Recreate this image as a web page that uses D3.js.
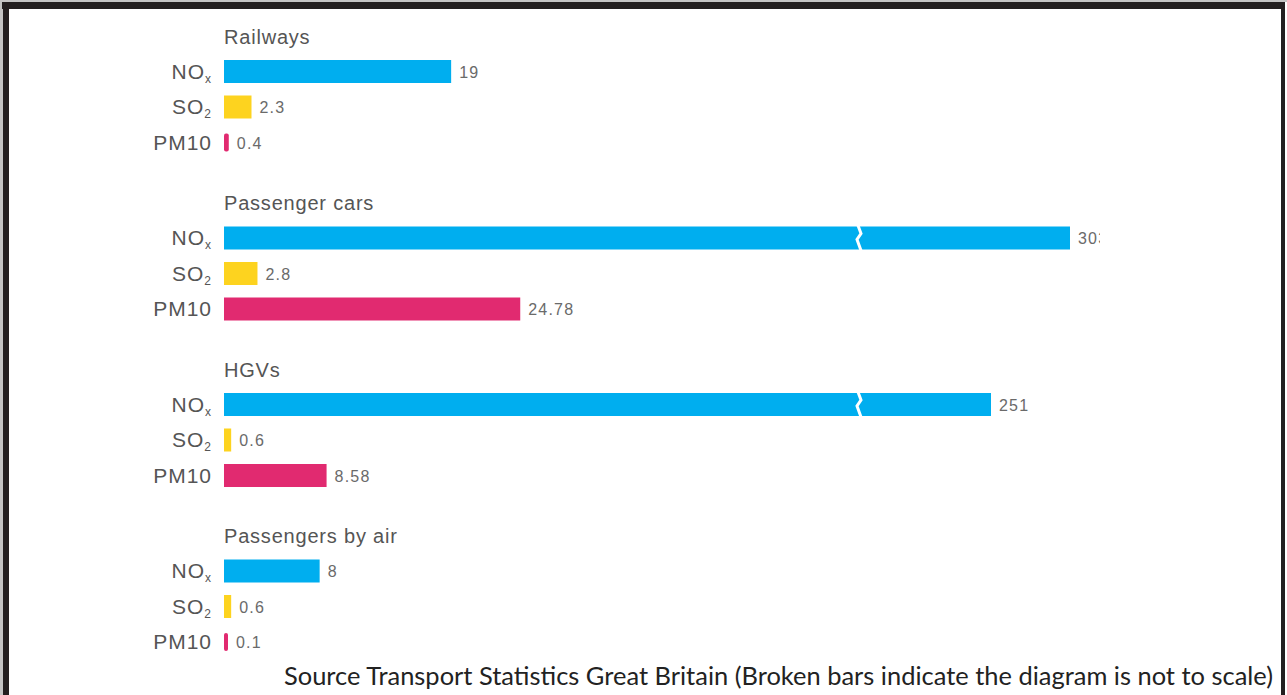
<!DOCTYPE html>
<html>
<head>
<meta charset="utf-8">
<script src="https://cdn.jsdelivr.net/npm/d3@7"></script>
<style>
  body { margin: 0; background: #fff; }
  svg { display: block; }
  .cat { font-family: "Liberation Sans", Arial, sans-serif; font-size: 20px; fill: #555; letter-spacing: 0.8px; }
  .rowlab { font-size: 21px; letter-spacing: 1px; }
  .val { font-family: "Liberation Sans", Arial, sans-serif; font-size: 16px; fill: #6a6a6a; letter-spacing: 1.2px; }
  .source { font-family: "Lato", sans-serif; font-size: 25px; fill: #222; }
</style>
</head>
<body>
<div id="chart"></div>
<script>
// chart data
var groups = ["Railways", "Passenger cars", "HGVs", "Passengers by air"];
var pollutants = ["NOx", "SO2", "PM10"];
var noxValues = [19, 303, 251, 8];
var so2Values = [2.3, 2.8, 0.6, 0.6];
var pm10Values = [0.4, 24.78, 8.58, 0.1];
var valueLabels = [
  ["19", "2.3", "0.4"],
  ["303", "2.8", "24.78"],
  ["251", "0.6", "8.58"],
  ["8", "0.6", "0.1"]
];
var breakAt = 53.2;
var colors = { NOx: "#00aeef", SO2: "#fdd31f", PM10: "#e12a70" };

var svgWidth = 1287;
var svgHeight = 695;
var barLeft = 224;

var svg = d3.select("#chart")
  .append("svg")
  .attr("width", svgWidth)
  .attr("height", svgHeight);

// frame
svg.append("rect").attr("x", 0).attr("y", 0).attr("width", svgWidth).attr("height", 2).attr("fill", "#c4c4c4");
svg.append("rect").attr("x", 0).attr("y", 0).attr("width", 3).attr("height", svgHeight).attr("fill", "#c4c4c4");
svg.append("rect").attr("x", 2).attr("y", 2).attr("width", 1283).attr("height", 7).attr("fill", "#231f20");
svg.append("rect").attr("x", 3).attr("y", 2).attr("width", 6).attr("height", svgHeight).attr("fill", "#231f20");
svg.append("rect").attr("x", 1281).attr("y", 2).attr("width", 4).attr("height", svgHeight).attr("fill", "#231f20");

// rows
var rows = [];
groups.forEach(function(g, i) {
  var vals = [noxValues[i], so2Values[i], pm10Values[i]];
  pollutants.forEach(function(p, j) {
    rows.push({ group: g, pollutant: p, value: vals[j], label: valueLabels[i][j] });
  });
});

// scales (broken above breakAt, so not to scale)
var x = d3.scaleLinear()
  .domain([0, breakAt, 251, 303])
  .range([0, 636, 767, 846]);

var groupY = d3.scaleBand()
  .domain(groups)
  .range([19.5, 19.5 + 4 * 166.5]);

var rowY = d3.scalePoint()
  .domain(pollutants)
  .range([52, 123]);

var barH = 23;

var chartGroup = svg.append("g");

var clip = svg.append("clipPath").attr("id", "clipR");
clip.append("rect").attr("x", 0).attr("y", 0).attr("width", 1100).attr("height", svgHeight);

// group titles
chartGroup.selectAll(".title")
  .data(groups)
  .enter()
  .append("text")
  .attr("class", "cat")
  .attr("x", barLeft)
  .attr("y", d => groupY(d) + 24)
  .text(d => d);

// row labels
var labels = chartGroup.selectAll(".rowlabel")
  .data(rows)
  .enter()
  .append("text")
  .attr("class", "cat rowlab")
  .attr("text-anchor", "end")
  .attr("x", 212)
  .attr("y", d => groupY(d.group) + rowY(d.pollutant) + 7);

labels.each(function(d) {
  var t = d3.select(this);
  if (d.pollutant === "PM10") {
    t.text("PM10");
  } else {
    t.append("tspan").text(d.pollutant.slice(0, 2));
    t.append("tspan")
      .attr("dy", 4)
      .style("font-size", "12px")
      .text(d.pollutant === "NOx" ? "x" : "2");
  }
});

// bars
chartGroup.selectAll(".bar")
  .data(rows)
  .enter()
  .append("rect")
  .attr("x", barLeft)
  .attr("y", d => groupY(d.group) + rowY(d.pollutant) - (x(d.value) < 5 ? 9 : barH / 2))
  .attr("width", d => Math.max(x(d.value), 4))
  .attr("height", d => x(d.value) < 5 ? 18 : barH)
  .attr("rx", d => x(d.value) < 5 ? 2 : 0)
  .attr("fill", d => colors[d.pollutant]);

// break marks
var brokenRows = rows.filter(d => d.value > breakAt);
chartGroup.selectAll(".brk")
  .data(brokenRows)
  .enter()
  .append("path")
  .attr("d", function(d) {
    var cx = barLeft + x(breakAt);
    var y0 = groupY(d.group) + rowY(d.pollutant) - barH / 2 - 1;
    return "M" + (cx - 2) + "," + y0 +
      " L" + (cx + 1) + "," + (y0 + 8) +
      " L" + (cx - 3) + "," + (y0 + 14) +
      " L" + (cx + 1) + "," + (y0 + barH + 2);
  })
  .attr("fill", "none")
  .attr("stroke", "#fff")
  .attr("stroke-width", 3);

// value labels
chartGroup.selectAll(".val")
  .data(rows)
  .enter()
  .append("text")
  .attr("class", "val")
  .attr("clip-path", "url(#clipR)")
  .attr("x", d => barLeft + Math.max(x(d.value), 4) + 8)
  .attr("y", d => groupY(d.group) + rowY(d.pollutant) + 6)
  .text(d => d.label);

// source note
svg.append("text")
  .attr("class", "source")
  .attr("x", 284)
  .attr("y", 685)
  .attr("textLength", 989)
  .attr("lengthAdjust", "spacingAndGlyphs")
  .text("Source Transport Statistics Great Britain (Broken bars indicate the diagram is not to scale)");
</script>
</body>
</html>
